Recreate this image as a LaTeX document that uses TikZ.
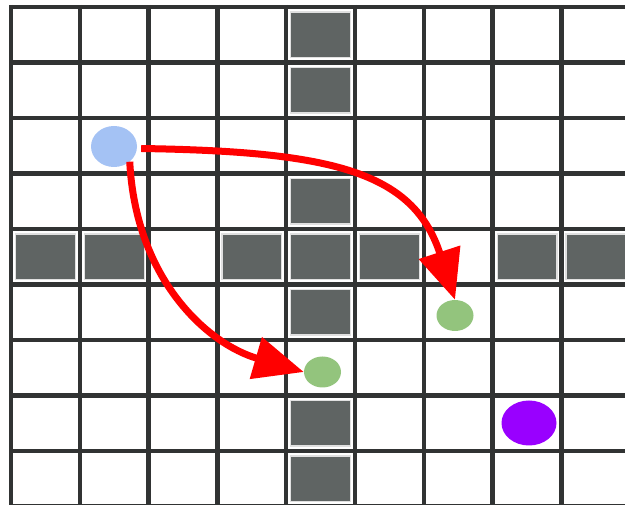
\documentclass[tikz,border=0pt]{standalone}
\usepackage{tikz}
\usetikzlibrary{arrows.meta,shapes.geometric}
\definecolor{gridline}{HTML}{313333}
\definecolor{wallgray}{HTML}{5F6463}
\definecolor{dotblue}{HTML}{A4C2F4}
\definecolor{dotgreen}{HTML}{93C47D}
\definecolor{dotpurple}{HTML}{9900FF}

\begin{document}
\begin{tikzpicture}[x=1pt,y=-1pt,>={Triangle[length=50pt,width=42pt]},
  wall/.style={fill=wallgray,draw=black!12,line width=1.2pt},
  dot/.style={ellipse,inner sep=0pt,draw=none},
  move/.style={->,draw=red,line width=7pt}]
\useasboundingbox (0,0) rectangle (625,505);
\begin{scope}
\clip (0,0) rectangle (625,505);
% walls
\foreach \r in {0,1,3,4,5,7,8}
  \draw[wall] (11+68.8*4+4.5,7+55.5*\r+5) rectangle ++(59.8,45.5);
\foreach \c in {0,1,3,5,7,8}
  \draw[wall] (11+68.8*\c+4.5,7+55.5*4+5) rectangle ++(59.8,45.5);
% grid
\foreach \i in {0,...,9}
  \draw[gridline,line width=4.3pt] (11+68.8*\i,5) -- (11+68.8*\i,510);
\foreach \j in {0,...,9}
  \draw[gridline,line width=4.3pt] (9,7+55.5*\j) -- (630,7+55.5*\j);
\end{scope}
% dots
\node[dot,fill=dotblue,minimum width=46pt,minimum height=41pt] (blue-dot) at (114,146.5) {};
\node[dot,fill=dotgreen,minimum width=37pt,minimum height=31pt] (green-a) at (455,315.5) {};
\node[dot,fill=dotgreen,minimum width=37pt,minimum height=31pt] (green-b) at (322.5,372) {};
\node[dot,fill=dotpurple,minimum width=55pt,minimum height=45pt] (purple-dot) at (529,423) {};
% moves
\draw[move] ([shift={(4,2)}]blue-dot.east) .. controls +(189,3) and +(-42,-129) .. (green-a.north);
\draw[move] (blue-dot.-44) .. controls +(6,118) and +(-96,-28) .. (green-b.west);
\end{tikzpicture}
\end{document}
